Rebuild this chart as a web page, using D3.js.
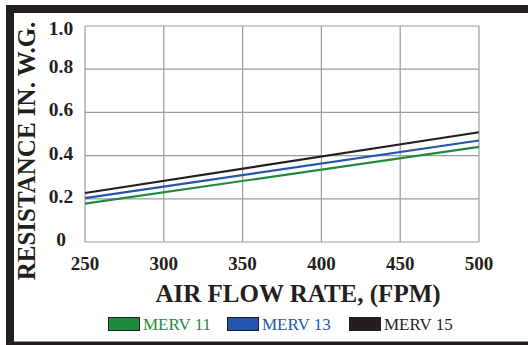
<!DOCTYPE html>
<html><head><meta charset="utf-8">
<script src="https://cdn.jsdelivr.net/npm/d3@7"></script>
<style>body{margin:0;background:#fff;}svg{display:block;}</style>
</head><body>
<script>
const flowRates = [250, 500];
const merv11 = [0.178, 0.440];
const merv13 = [0.203, 0.470];
const merv15 = [0.227, 0.508];
const seriesNames = ["MERV 11", "MERV 13", "MERV 15"];
const seriesColors = ["#1f8a3e", "#2456ae", "#231f20"];
const xTicks = [250, 300, 350, 400, 450, 500];
const yTicks = [0, 0.2, 0.4, 0.6, 0.8, 1.0];
const yTickLabels = ["0", "0.2", "0.4", "0.6", "0.8", "1.0"];

const W = 528, H = 345;
const svg = d3.select("body").append("svg").attr("width", W).attr("height", H);
const font = "'Liberation Serif', 'Times New Roman', serif";

// frame
svg.append("rect").attr("x", 6).attr("y", 5).attr("width", W - 6).attr("height", 8).attr("fill", "#231f20");
svg.append("rect").attr("x", 6).attr("y", 5).attr("width", 8).attr("height", H - 5).attr("fill", "#231f20");
svg.append("rect").attr("x", 6).attr("y", 341.5).attr("width", W - 6).attr("height", 4).attr("fill", "#231f20");

const x = d3.scaleLinear().domain([250, 500]).range([85, 479]);
const y = d3.scaleLinear().domain([0, 1]).range([242, 26]);

const g = svg.append("g");
// grid
g.selectAll(".vg").data(xTicks).join("line")
  .attr("x1", d => x(d)).attr("x2", d => x(d)).attr("y1", y(1)).attr("y2", y(0))
  .attr("stroke", "#9b9b9b").attr("stroke-width", 1.2);
g.selectAll(".hg").data(yTicks).join("line")
  .attr("x1", x(250)).attr("x2", x(500)).attr("y1", d => y(d)).attr("y2", d => y(d))
  .attr("stroke", "#9b9b9b").attr("stroke-width", 1.2);

// y tick labels
g.selectAll(".yl").data(yTicks).join("text")
  .attr("x", 61).attr("y", d => y(d) + 4 + (d === 1 ? 5 : 0))
  .attr("text-anchor", "middle").attr("font-family", font).attr("font-weight", "bold")
  .attr("font-size", 19.5).attr("fill", "#231f20")
  .text((d, i) => yTickLabels[i]);

// x tick labels
g.selectAll(".xl").data(xTicks).join("text")
  .attr("x", d => x(d)).attr("y", 270)
  .attr("text-anchor", "middle").attr("font-family", font).attr("font-weight", "bold")
  .attr("font-size", 19).attr("fill", "#231f20")
  .text(d => d);

// axis titles
svg.append("text").attr("x", 298).attr("y", 302).attr("text-anchor", "middle")
  .attr("font-family", font).attr("font-weight", "bold").attr("font-size", 25).attr("fill", "#231f20")
  .text("AIR FLOW RATE, (FPM)");
svg.append("text").attr("transform", "translate(35,151) rotate(-90)").attr("text-anchor", "middle")
  .attr("font-family", font).attr("font-weight", "bold").attr("font-size", 25).attr("fill", "#231f20")
  .text("RESISTANCE IN. W.G.");

// lines
const allSeries = [merv11, merv13, merv15];
const line = d3.line().x((d, i) => x(flowRates[i])).y(d => y(d));
allSeries.forEach((s, i) => {
  svg.append("path").datum(s).attr("d", line).attr("fill", "none")
    .attr("stroke", seriesColors[i]).attr("stroke-width", 2.2);
});

// legend
const legX = [108, 227, 349];
seriesNames.forEach((n, i) => {
  svg.append("rect").attr("x", legX[i] + 0.5).attr("y", 317.5).attr("width", 31).attr("height", 13)
    .attr("fill", seriesColors[i]).attr("stroke", "#231f20").attr("stroke-width", 1);
  svg.append("text").attr("x", legX[i] + 35).attr("y", 330)
    .attr("font-family", font).attr("font-size", 17)
    .attr("fill", seriesColors[i]).text(n);
});
</script>
</body></html>
